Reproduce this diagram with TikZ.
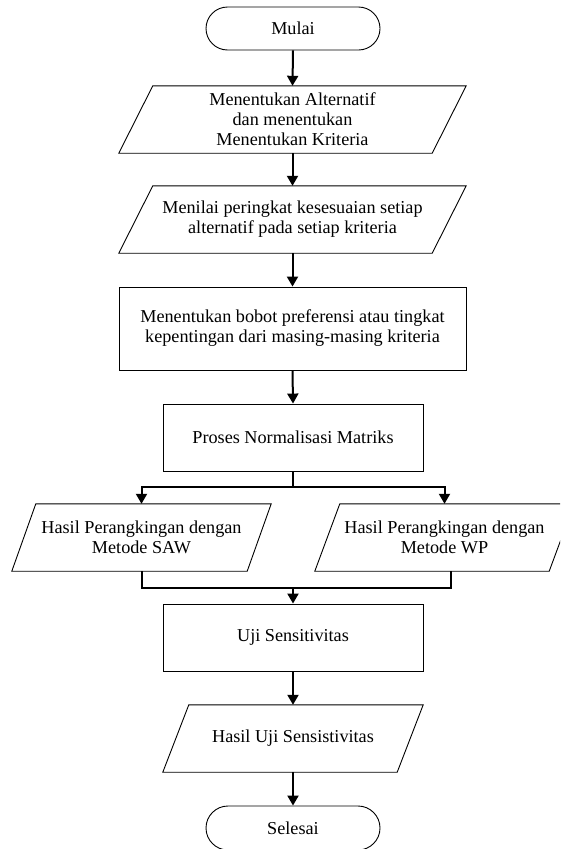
\documentclass[tikz,border=0pt]{standalone}
\usepackage{fontspec}
\setmainfont{Liberation Serif}
\usetikzlibrary{arrows.meta,shapes.misc}
\begin{document}
\begin{tikzpicture}[x=1pt,y=1pt,
  txt/.style={inner sep=0pt, align=center, font=\fontsize{18.2}{20}\selectfont},
  boxnode/.style={txt, draw, line width=0.9pt, rectangle},
  termnode/.style={txt, draw, line width=0.9pt, rounded rectangle, minimum width=174pt, minimum height=43pt},
  paranode/.style={txt, rectangle},
  pshape/.style={draw, line width=0.9pt, line join=miter},
  flow/.style={line width=2pt, -{Triangle[width=11pt,length=10pt]}},
  plain/.style={line width=2pt}]
\fill[white] (0,0) rectangle (560,-849);
\useasboundingbox (0,0) rectangle (560,-849);
\clip (0,0) rectangle (560,-849);

% nodes
\node[termnode] (mulai) at (293,-28.5) {Mulai};
\node[paranode, minimum width=347pt, minimum height=67pt] (p1) at (292.5,-119.5)
  {Menentukan Alternatif\\dan menentukan\\Menentukan Kriteria};
\node[paranode, minimum width=347pt, minimum height=67pt] (p2) at (292.5,-219.5)
  {Menilai peringkat kesesuaian setiap\\alternatif pada setiap kriteria};
\node[boxnode, minimum width=347pt, minimum height=83pt] (r3) at (292.5,-328.5)
  {Menentukan bobot preferensi atau tingkat\\kepentingan dari masing-masing kriteria};
\node[boxnode, minimum width=260pt, minimum height=67pt] (proses) at (293,-437.5)
  {Proses Normalisasi Matriks};
\node[paranode, minimum width=259pt, minimum height=67pt] (lp) at (141.5,-537.5)
  {Hasil Perangkingan dengan\\Metode SAW};
\node[paranode, minimum width=259pt, minimum height=67pt] (rp) at (444.5,-537.5)
  {Hasil Perangkingan dengan\\Metode WP};
\node[boxnode, minimum width=260pt, minimum height=67pt] (uji) at (293,-637.5)
  {Uji Sensitivitas};
\node[paranode, minimum width=260pt, minimum height=67pt] (hu) at (293,-738.5)
  {Hasil Uji Sensistivitas};
\node[termnode, minimum height=44pt] (selesai) at (293,-828) {Selesai};

% parallelogram outlines
\draw[pshape] ([xshift=34pt]p1.north west) -- (p1.north east) -- ([xshift=-34pt]p1.south east) -- (p1.south west) -- cycle;
\draw[pshape] ([xshift=34pt]p2.north west) -- (p2.north east) -- ([xshift=-34pt]p2.south east) -- (p2.south west) -- cycle;
\draw[pshape] ([xshift=24pt]lp.north west) -- (lp.north east) -- ([xshift=-24pt]lp.south east) -- (lp.south west) -- cycle;
\draw[pshape] ([xshift=25pt]rp.north west) -- (rp.north east) -- ([xshift=-25pt]rp.south east) -- (rp.south west) -- cycle;
\draw[pshape] ([xshift=26pt]hu.north west) -- (hu.north east) -- ([xshift=-26pt]hu.south east) -- (hu.south west) -- cycle;

% connectors
\draw[flow] (mulai.south) -- (p1.north);
\draw[flow] (p1.south) -- (p2.north);
\draw[flow] (p2.south) -- (r3.north);
\draw[flow] (r3.south) -- (proses.north);
\coordinate (split) at (293,-487);
\draw[plain] (proses.south) -- (split);
\draw[flow] (split) -| (lp.north);
\draw[flow] (split) -| (rp.north);
\coordinate (merge) at (293,-588);
\draw[plain, line join=miter] (lp.south) |- ([xshift=6pt]rp.south |- merge) -- ([xshift=6pt]rp.south);
\draw[flow] (merge) -- (uji.north);
\draw[flow] (uji.south) -- (hu.north);
\draw[flow] (hu.south) -- (selesai.north);
\end{tikzpicture}
\end{document}
